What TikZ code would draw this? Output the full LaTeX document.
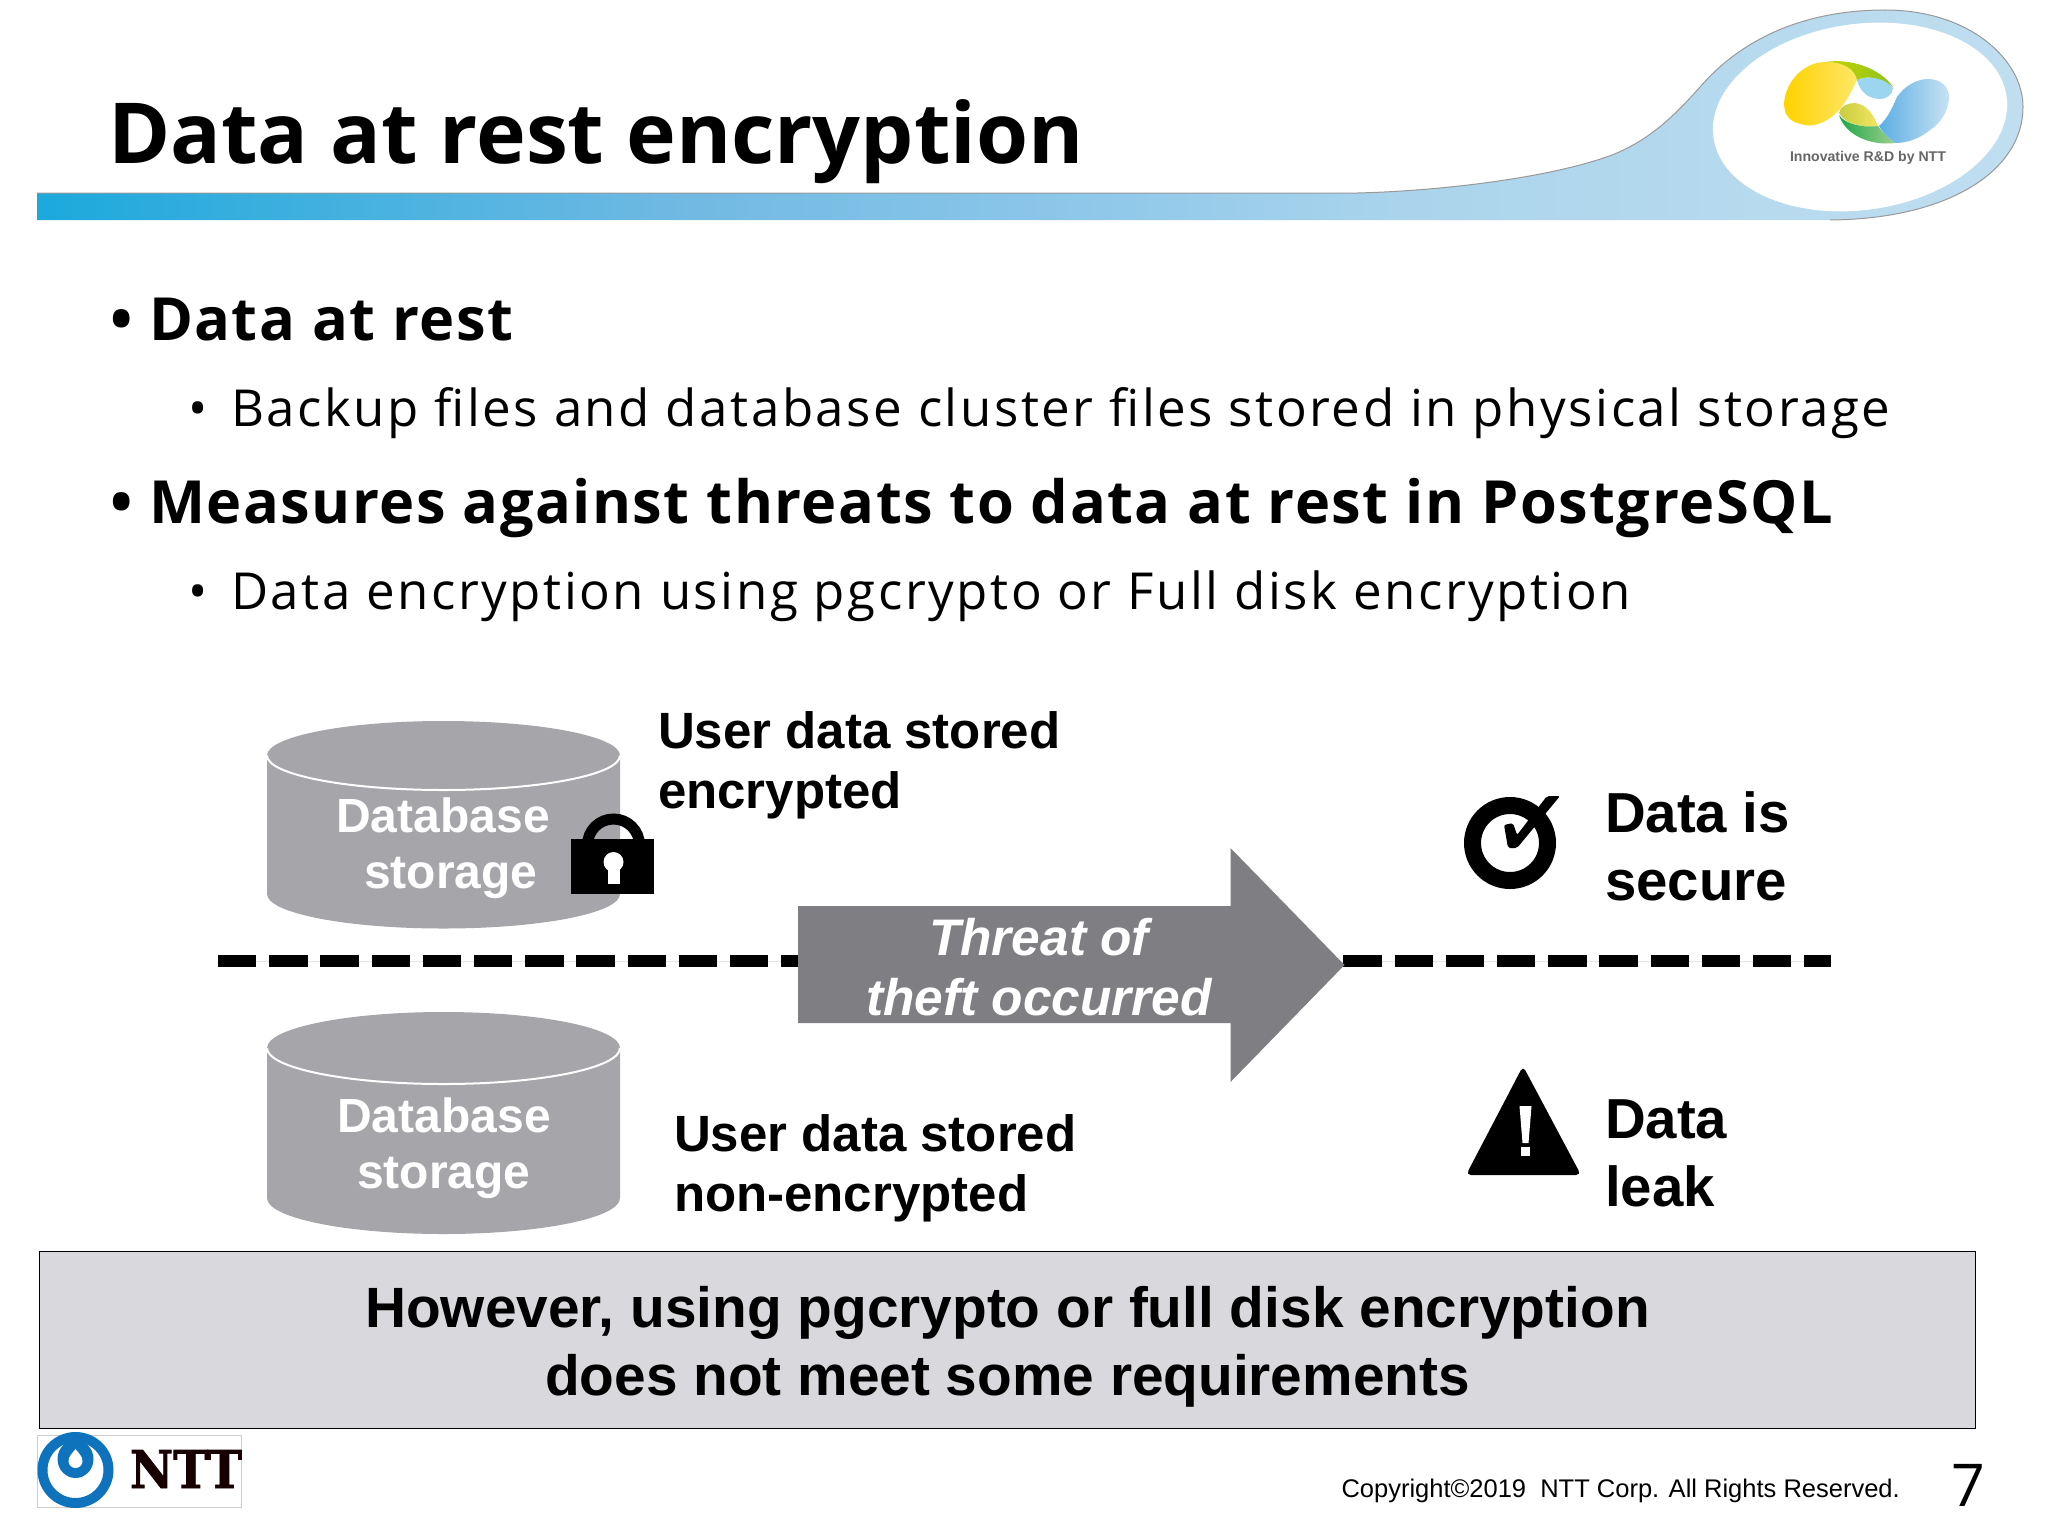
\documentclass[tikz,border=0pt]{standalone}
\usepackage{fontspec}
\setmainfont{Liberation Sans}
\newfontfamily\headfont{Open Sans}
\newfontfamily\bodyfont[LetterSpace=5]{Open Sans}
\newfontfamily\boldbody[LetterSpace=2.5]{Open Sans}
\newfontfamily\slabfont[BoldFeatures={FakeBold=1.5}]{DejaVu Serif}
\definecolor{cyl}{HTML}{A6A5A9}
\definecolor{arrowg}{HTML}{7F7E82}
\definecolor{boxg}{HTML}{D9D8DC}
\definecolor{nttblue}{HTML}{0E72BD}
\definecolor{yela}{HTML}{FFD200}
\definecolor{yelb}{HTML}{FFE766}
\definecolor{lima}{HTML}{C8D400}
\definecolor{limb}{HTML}{8CC220}
\definecolor{skya}{HTML}{9BD5EE}
\definecolor{blua}{HTML}{5BAEE3}
\definecolor{blub}{HTML}{C8E2F4}
\definecolor{olva}{HTML}{C8CC40}
\definecolor{olvb}{HTML}{F2E660}
\definecolor{grna}{HTML}{1FA84A}
\definecolor{grnb}{HTML}{9CCF8C}
\definecolor{banda}{HTML}{1CA9DC}
\definecolor{bandb}{HTML}{72BAE3}
\definecolor{bandc}{HTML}{8BC6E9}
\definecolor{bandd}{HTML}{AAD4EC}
\definecolor{bande}{HTML}{C0DEF0}
\pgfdeclarehorizontalshading{bandshade}{100bp}{color(0bp)=(banda);color(25bp)=(banda);color(41.7bp)=(bandb);color(50.5bp)=(bandc);color(59.3bp)=(bandd);color(75bp)=(bande);color(100bp)=(bande)}
\tikzset{
  x=0.5pt,y=-0.5pt,
  txt/.style={inner sep=0pt,outer sep=0pt,anchor=base west,align=left},
  ctxt/.style={inner sep=0pt,outer sep=0pt,anchor=base,align=center},
  lvlone/.style={txt,font=\fontsize{29.75}{36}\selectfont\boldbody\bfseries},
  lvltwo/.style={txt,font=\fontsize{25.5}{30}\selectfont\bodyfont},
  dbtxt/.style={ctxt,text=white,font=\fontsize{24}{28}\selectfont\bfseries},
  userdata/.style={txt,font=\fontsize{25.5}{30}\selectfont\bfseries},
  result/.style={txt,font=\fontsize{28.2}{34}\selectfont\bfseries},
  cutline/.style={line width=6.3pt,dash pattern=on 19.2pt off 6.4pt},
  guide/.style={draw=black!10,line width=0.5pt}
}
\newcommand{\dbcyl}[4]{% x centre, top-ellipse y, side-end y, y radius
  \fill[cyl] (#1-176.5,#2) -- (#1-176.5,#3) arc[start angle=180,end angle=0,x radius=176.5,y radius=#4] -- (#1+176.5,#2) -- cycle;
  \fill[cyl] (#1,#2) ellipse[x radius=176.5,y radius=#4];
  \draw[white,line width=1pt] (#1-176.5,#2) arc[start angle=180,end angle=0,x radius=176.5,y radius=#4];
}
\begin{document}
\begin{tikzpicture}
\useasboundingbox[fill=white] (0,0) rectangle (2048,1536);

% header band and teardrop
\shade[shading=bandshade,shading angle=0]
  (37,193) -- (1357,193) .. controls (1440,191) and (1550,178) .. (1612,155)
  .. controls (1650,140) and (1675,115) .. (1700,87)
  .. controls (1745,35) and (1810,10) .. (1885,10)
  .. controls (1970,10) and (2023,60) .. (2023,107)
  .. controls (2023,170) and (1950,219) .. (1830,220) -- (37,220) -- cycle;
\draw[black!40!white,line width=0.5pt]
  (37,193) -- (1357,193) .. controls (1440,191) and (1550,178) .. (1612,155)
  .. controls (1650,140) and (1675,115) .. (1700,87)
  .. controls (1745,35) and (1810,10) .. (1885,10)
  .. controls (1970,10) and (2023,60) .. (2023,107)
  .. controls (2023,170) and (1950,219) .. (1830,220);
\fill[white] (1860,117) ellipse[x radius=148,y radius=93,rotate=8];

% logo blobs
\shade[left color=yela,right color=yelb]
  (1784,103) .. controls (1786,80) and (1805,62) .. (1825,62)
  .. controls (1845,62) and (1855,70) .. (1857,80)
  .. controls (1850,95) and (1842,108) .. (1836,113)
  .. controls (1825,124) and (1810,128) .. (1801,124)
  .. controls (1790,122) and (1784,115) .. (1784,103) -- cycle;
\shade[left color=lima,right color=limb]
  (1825,62) .. controls (1850,58) and (1880,68) .. (1893,87)
  .. controls (1880,78) and (1868,75) .. (1857,80)
  .. controls (1855,70) and (1845,62) .. (1825,62) -- cycle;
\fill[color=skya]
  (1857,80) .. controls (1868,75) and (1885,78) .. (1893,88)
  .. controls (1893,95) and (1885,100) .. (1878,99)
  .. controls (1868,98) and (1860,92) .. (1857,80) -- cycle;
\shade[left color=blua,right color=blub]
  (1879,126) .. controls (1888,118) and (1892,108) .. (1897,97)
  .. controls (1905,85) and (1918,79) .. (1928,79)
  .. controls (1942,79) and (1949,88) .. (1949,97)
  .. controls (1949,110) and (1941,123) .. (1930,130)
  .. controls (1918,140) and (1905,143) .. (1895,143)
  .. controls (1888,138) and (1882,132) .. (1879,126) -- cycle;
\shade[left color=olva,right color=olvb]
  (1839,113) .. controls (1840,106) and (1848,103) .. (1855,103)
  .. controls (1868,105) and (1873,115) .. (1878,126)
  .. controls (1862,128) and (1845,124) .. (1839,113) -- cycle;
\shade[left color=grna,right color=grnb]
  (1839,115) .. controls (1845,124) and (1862,128) .. (1878,126)
  .. controls (1882,132) and (1888,138) .. (1895,143)
  .. controls (1870,146) and (1845,135) .. (1839,115) -- cycle;
\node[txt,text=black!60,font=\fontsize{7.05}{9}\selectfont\bfseries] (logotext) at (1790,162) {Innovative R\&D by NTT};

% title and bullets
\node[txt,font=\fontsize{42.1}{50}\selectfont\headfont\bfseries] (title) at (108,163) {Data at rest encryption};

\node[lvlone] (b1) at (110,340) {•};
\node[lvlone] (t1) at (149,340) {Data at rest};
\node[lvltwo] (b2) at (188,426) {•};
\node[lvltwo] (t2) at (231,426) {Backup files and database cluster files stored in physical storage};
\node[lvlone] (b3) at (110,523) {•};
\node[lvlone] (t3) at (149,523) {Measures against threats to data at rest in PostgreSQL};
\node[lvltwo] (b4) at (188,609) {•};
\node[lvltwo] (t4) at (231,609) {Data encryption using pgcrypto or Full disk encryption};

% dashed separator
\coordinate (la) at (218,961);
\coordinate (lb) at (798,961);
\coordinate (ra) at (1343.4,961);
\coordinate (rb) at (1831,961);
\draw[guide] (la) -- (lb);
\draw[guide] (ra) -- (rb);
\draw[cutline] (la) -- (lb);
\draw[cutline] (ra) -- (rb);

% storage cylinders
\dbcyl{443.5}{755.5}{894}{34.5}
\dbcyl{443.5}{1048}{1198}{36}
\node[dbtxt] (db1) at (443,888.6) {\hspace*{0pt}Database\\\hspace*{8pt}storage};
\node[dbtxt] (db2) at (444,1188.6) {Database\\storage};

% padlock
\draw[black,line width=5.5pt] (587.5,845) arc[start angle=180,end angle=360,radius=26];
\fill[black] (571,839) rectangle (654,894);
\fill[white] (613.5,862) circle[radius=10];
\fill[white] (607.5,864) rectangle (619.5,884);

\node[userdata] (enc) at (658,808) {User data stored\\encrypted};
\node[userdata] (nonenc) at (674,1211) {User data stored\\non-encrypted};

% threat arrow
\fill[arrowg] (798,906) -- (1230.5,906) -- (1230.5,848) -- (1344.5,965) -- (1230.5,1082) -- (1230.5,1023) -- (798,1023) -- cycle;
\node[ctxt,text=white,font=\fontsize{25.7}{30}\selectfont\bfseries\itshape] (threat) at (1039,1015) {Threat of\\theft occurred};

% secure icon
\draw[black,line width=8.5pt] (1510,843) circle[radius=37.5];
\fill[black,rounded corners=1pt] (1504,825) -- (1513,823) -- (1517,835) -- (1547,796) -- (1560,796) -- (1517,848) -- (1508,848) -- cycle;
\node[result] (secure) at (1605,900) {Data is\\secure};

% warning icon
\fill[black,rounded corners=2.5pt] (1523,1066) -- (1581,1175) -- (1466,1175) -- cycle;
\fill[white] (1519.5,1106) -- (1531.5,1106) -- (1528.5,1143) -- (1522.5,1143) -- cycle;
\fill[white] (1521,1147) rectangle (1530,1156);
\node[result] (leak) at (1605,1206) {Data\\leak};

% conclusion box
\node[draw=black,fill=boxg,line width=0.9pt,minimum width=968pt,inner sep=0pt,outer sep=0pt,anchor=north west,minimum height=88.5pt] (conc) at (39.5,1251.5) {};
\node[ctxt,font=\fontsize{28.4}{34}\selectfont\bfseries] (conctext) at (1007.5,1395) {However, using pgcrypto or full disk encryption\\does not meet some requirements};

% NTT logo
\draw[black!20,line width=0.4pt,fill=white] (37,1435) rectangle (241,1507);
\draw[nttblue,line width=5pt] (75.5,1470) circle[radius=33];
\fill[nttblue] (75.5,1459) ellipse[x radius=18,y radius=19];
\fill[white] (75.5,1461) ellipse[x radius=7,y radius=7];
\fill[white] (69,1458) .. controls (71,1454) and (74,1451) .. (75.5,1449) .. controls (77,1451) and (80,1454) .. (82,1458) -- cycle;
\node[inner sep=0pt,outer sep=0pt,anchor=base west,xscale=0.91,transform shape,text=black!90!red,font=\fontsize{26}{30}\selectfont\slabfont\bfseries] (ntt) at (130,1488) {NTT};

% footer
\node[txt,font=\fontsize{12.75}{15}\selectfont] (copy) at (1341.5,1497.5) {Copyright©2019\ \ NTT Corp. All Rights Reserved.};
\node[txt,font=\fontsize{29.5}{36}\selectfont\headfont] (page) at (1951,1506) {7};
\end{tikzpicture}
\end{document}
